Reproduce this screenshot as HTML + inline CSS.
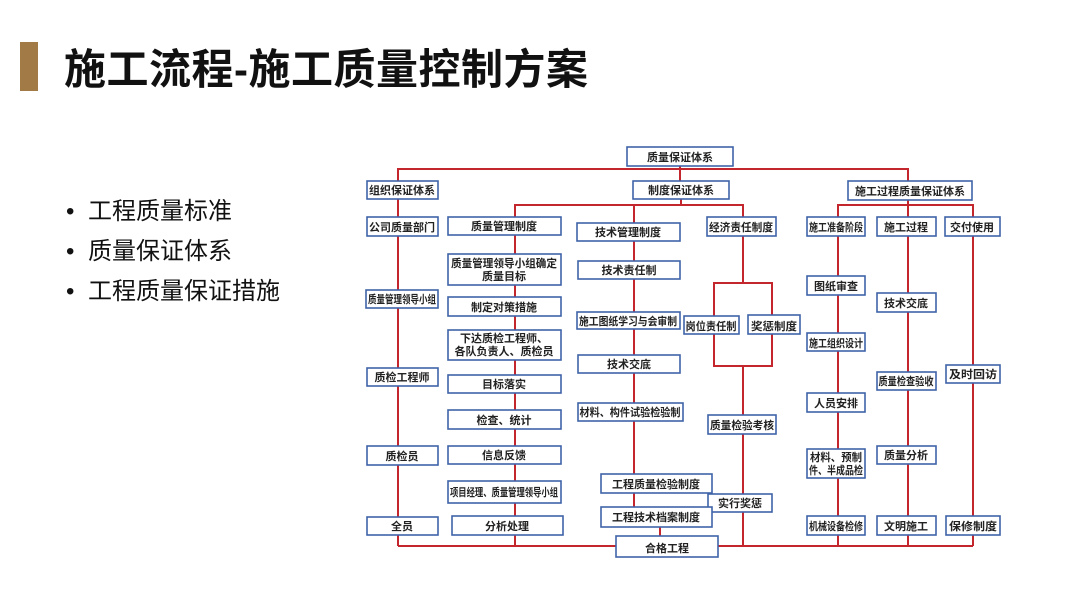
<!DOCTYPE html>
<html><head><meta charset="utf-8"><style>
html,body{margin:0;padding:0;background:#fff;}
body{width:1066px;height:590px;overflow:hidden;position:relative;font-family:"Liberation Sans","Noto Sans CJK SC",sans-serif;}
.bar{position:absolute;left:20px;top:42px;width:18px;height:49px;background:#a27a45;}
.title{position:absolute;left:64px;top:43px;font-size:42px;font-weight:bold;color:#111;letter-spacing:0.5px;line-height:54px;white-space:nowrap;}
.bul{position:absolute;left:66px;font-size:24px;color:#111;line-height:30px;white-space:nowrap;}
.bul span{display:inline-block;width:22px;}
svg{position:absolute;left:0;top:0;}
svg text{font-family:"Liberation Sans","Noto Sans CJK SC",sans-serif;font-size:11px;fill:#222;text-anchor:middle;font-weight:bold;}
</style></head><body>
<div class="bar"></div>
<div class="title">施工流程-施工质量控制方案</div>
<div class="bul" style="top:197px"><span>•</span>工程质量标准</div>
<div class="bul" style="top:237px"><span>•</span>质量保证体系</div>
<div class="bul" style="top:277px"><span>•</span>工程质量保证措施</div>
<svg width="1066" height="590" viewBox="0 0 1066 590">
<g stroke="#c4262e" stroke-width="2" fill="none">
<polyline points="398,199 398,169 908,169 908,181"/>
<line x1="680" y1="166" x2="680" y2="181"/>
<line x1="681" y1="199" x2="681" y2="205"/>
<polyline points="515,217 515,205 743,205 743,217"/>
<line x1="634" y1="205" x2="634" y2="474"/>
<line x1="634" y1="493" x2="634" y2="507"/>
<line x1="660" y1="527" x2="660" y2="537"/>
<line x1="398" y1="199" x2="398" y2="546"/>
<line x1="515" y1="235" x2="515" y2="546"/>
<polyline points="743,236 743,283"/>
<rect x="714" y="283" width="58" height="83"/>
<line x1="743" y1="366" x2="743" y2="546"/>
<polyline points="838,217 838,205 973,205 973,217"/>
<line x1="908" y1="200" x2="908" y2="217"/>
<line x1="838" y1="236" x2="838" y2="546"/>
<line x1="908" y1="236" x2="908" y2="546"/>
<line x1="973" y1="236" x2="973" y2="546"/>
<line x1="398" y1="546" x2="973" y2="546"/>
</g>
<g stroke="#3f63a8" stroke-width="1.6" fill="#fff">
<rect x="627" y="147" width="106" height="19"/>
<rect x="367" y="181" width="71" height="18"/>
<rect x="633" y="181" width="96" height="18"/>
<rect x="848" y="181" width="124" height="19"/>
<rect x="367" y="217" width="71" height="19"/>
<rect x="448" y="217" width="113" height="18"/>
<rect x="577" y="223" width="103" height="18"/>
<rect x="707" y="217" width="69" height="19"/>
<rect x="807" y="217" width="58" height="19"/>
<rect x="877" y="217" width="59" height="19"/>
<rect x="945" y="217" width="55" height="19"/>
<rect x="448" y="254" width="113" height="31"/>
<rect x="578" y="261" width="102" height="18"/>
<rect x="807" y="276" width="58" height="19"/>
<rect x="877" y="293" width="59" height="19"/>
<rect x="366" y="290" width="72" height="18"/>
<rect x="448" y="297" width="113" height="19"/>
<rect x="577" y="312" width="103" height="17"/>
<rect x="684" y="316" width="55" height="18"/>
<rect x="748" y="315" width="52" height="19"/>
<rect x="807" y="333" width="58" height="18"/>
<rect x="448" y="330" width="113" height="30"/>
<rect x="578" y="355" width="102" height="18"/>
<rect x="367" y="368" width="71" height="18"/>
<rect x="448" y="375" width="113" height="18"/>
<rect x="877" y="372" width="59" height="18"/>
<rect x="946" y="365" width="54" height="18"/>
<rect x="807" y="393" width="58" height="19"/>
<rect x="578" y="403" width="105" height="18"/>
<rect x="448" y="410" width="113" height="19"/>
<rect x="708" y="415" width="68" height="19"/>
<rect x="367" y="446" width="71" height="19"/>
<rect x="448" y="446" width="113" height="18"/>
<rect x="807" y="449" width="58" height="29"/>
<rect x="877" y="446" width="59" height="18"/>
<rect x="601" y="474" width="111" height="19"/>
<rect x="448" y="481" width="113" height="22"/>
<rect x="708" y="494" width="64" height="18"/>
<rect x="601" y="507" width="111" height="20"/>
<rect x="367" y="517" width="71" height="18"/>
<rect x="452" y="516" width="111" height="19"/>
<rect x="807" y="516" width="58" height="19"/>
<rect x="877" y="516" width="59" height="19"/>
<rect x="946" y="516" width="54" height="19"/>
<rect x="616" y="536" width="102" height="21"/>
</g>
<text x="680" y="161" font-size="12">质量保证体系</text>
<text x="402" y="194">组织保证体系</text>
<text x="681" y="194">制度保证体系</text>
<text x="910" y="195">施工过程质量保证体系</text>
<text x="402" y="231">公司质量部门</text>
<text x="504" y="230">质量管理制度</text>
<text x="628" y="236">技术管理制度</text>
<text x="741" y="231" textLength="64" lengthAdjust="spacingAndGlyphs">经济责任制度</text>
<text x="836" y="231" textLength="54" lengthAdjust="spacingAndGlyphs">施工准备阶段</text>
<text x="906" y="231">施工过程</text>
<text x="972" y="231">交付使用</text>
<text x="504" y="267" textLength="106" lengthAdjust="spacingAndGlyphs">质量管理领导小组确定</text>
<text x="504" y="280">质量目标</text>
<text x="629" y="274">技术责任制</text>
<text x="836" y="290">图纸审查</text>
<text x="906" y="307">技术交底</text>
<text x="402" y="303" textLength="68" lengthAdjust="spacingAndGlyphs">质量管理领导小组</text>
<text x="504" y="311">制定对策措施</text>
<text x="628" y="325" textLength="98" lengthAdjust="spacingAndGlyphs">施工图纸学习与会审制</text>
<text x="711" y="330" textLength="51" lengthAdjust="spacingAndGlyphs">岗位责任制</text>
<text x="774" y="330" textLength="46" lengthAdjust="spacingAndGlyphs">奖惩制度</text>
<text x="836" y="347" textLength="54" lengthAdjust="spacingAndGlyphs">施工组织设计</text>
<text x="504" y="342">下达质检工程师、</text>
<text x="504" y="355">各队负责人、质检员</text>
<text x="629" y="368">技术交底</text>
<text x="402" y="381">质检工程师</text>
<text x="504" y="388">目标落实</text>
<text x="906" y="385" textLength="55" lengthAdjust="spacingAndGlyphs">质量检查验收</text>
<text x="973" y="378" textLength="48" lengthAdjust="spacingAndGlyphs">及时回访</text>
<text x="836" y="407">人员安排</text>
<text x="630" y="416" textLength="101" lengthAdjust="spacingAndGlyphs">材料、构件试验检验制</text>
<text x="504" y="424">检查、统计</text>
<text x="742" y="429" textLength="64" lengthAdjust="spacingAndGlyphs">质量检验考核</text>
<text x="402" y="460">质检员</text>
<text x="504" y="459">信息反馈</text>
<text x="836" y="461" textLength="52" lengthAdjust="spacingAndGlyphs">材料、预制</text>
<text x="836" y="474" textLength="54" lengthAdjust="spacingAndGlyphs">件、半成品检</text>
<text x="906" y="459">质量分析</text>
<text x="656" y="488">工程质量检验制度</text>
<text x="504" y="496" textLength="108" lengthAdjust="spacingAndGlyphs">项目经理、质量管理领导小组</text>
<text x="740" y="507">实行奖惩</text>
<text x="656" y="521">工程技术档案制度</text>
<text x="402" y="530">全员</text>
<text x="507" y="530">分析处理</text>
<text x="836" y="530" textLength="54" lengthAdjust="spacingAndGlyphs">机械设备检修</text>
<text x="906" y="530">文明施工</text>
<text x="973" y="530" textLength="48" lengthAdjust="spacingAndGlyphs">保修制度</text>
<text x="667" y="552" font-size="13">合格工程</text>
</svg>
</body></html>
